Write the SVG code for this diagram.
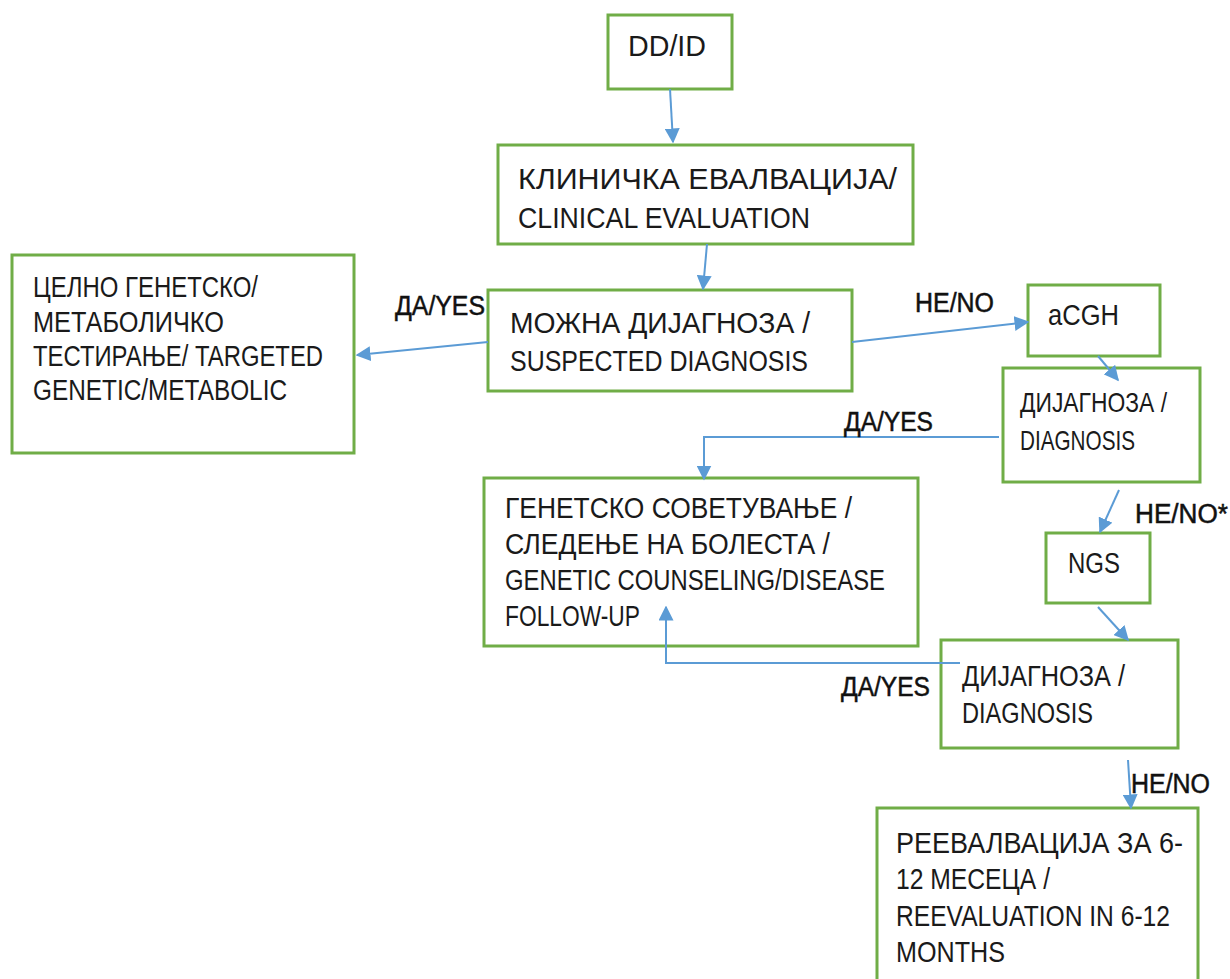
<svg xmlns="http://www.w3.org/2000/svg" width="1230" height="979" viewBox="0 0 1230 979">
<style>
.box{fill:#fff;stroke:#70AD47;stroke-width:3}
.t{font-family:"Liberation Sans",Arial,sans-serif;font-size:29px;fill:#1a1a1a}
.s{font-family:"Liberation Sans",Arial,sans-serif;font-size:28px;fill:#1a1a1a}
.lbl{font-family:"Liberation Sans",sans-serif;font-size:27px;fill:#111;stroke:#111;stroke-width:0.5}
.c{fill:none;stroke:#5B9BD5;stroke-width:2}
</style>
<defs>
<marker id="ah" viewBox="0 0 10 10" refX="9" refY="5" markerWidth="7.5" markerHeight="7.5" orient="auto" markerUnits="strokeWidth">
<path d="M0,0 L10,5 L0,10 z" fill="#5B9BD5"/>
</marker>
</defs>
<rect width="1230" height="979" fill="#fff"/>
<g id="n-ddid">
<rect class="box" x="608" y="15" width="124" height="74"/>
<text class="t" x="628" y="56" textLength="78" lengthAdjust="spacingAndGlyphs">DD/ID</text>
</g>
<g id="n-clinical">
<rect class="box" x="498" y="145" width="415" height="99"/>
<text class="t" x="518" y="189" textLength="379" lengthAdjust="spacingAndGlyphs">КЛИНИЧКА ЕВАЛВАЦИЈА/</text>
<text class="t" x="518" y="228" textLength="292" lengthAdjust="spacingAndGlyphs">CLINICAL EVALUATION</text>
</g>
<g id="n-targeted">
<rect class="box" x="12" y="255" width="342" height="198"/>
<text class="t" x="33" y="297" textLength="225" lengthAdjust="spacingAndGlyphs">ЦЕЛНО ГЕНЕТСКО/</text>
<text class="t" x="33" y="332" textLength="191" lengthAdjust="spacingAndGlyphs">МЕТАБОЛИЧКО</text>
<text class="t" x="33" y="366" textLength="290" lengthAdjust="spacingAndGlyphs">ТЕСТИРАЊЕ/ TARGETED</text>
<text class="t" x="33" y="400" textLength="254" lengthAdjust="spacingAndGlyphs">GENETIC/METABOLIC</text>
</g>
<g id="n-suspected">
<rect class="box" x="488" y="290" width="364" height="101"/>
<text class="t" x="510" y="333" textLength="300" lengthAdjust="spacingAndGlyphs">МОЖНА ДИЈАГНОЗА /</text>
<text class="t" x="510" y="371" textLength="298" lengthAdjust="spacingAndGlyphs">SUSPECTED DIAGNOSIS</text>
</g>
<g id="n-acgh">
<rect class="box" x="1028" y="285" width="132" height="71"/>
<text class="t" x="1048" y="325" textLength="71" lengthAdjust="spacingAndGlyphs">aCGH</text>
</g>
<g id="n-diag1">
<rect class="box" x="1003" y="368" width="197" height="114"/>
<text class="s" x="1020" y="412" textLength="147" lengthAdjust="spacingAndGlyphs">ДИЈАГНОЗА /</text>
<text class="s" x="1020" y="450" textLength="115" lengthAdjust="spacingAndGlyphs">DIAGNOSIS</text>
</g>
<g id="n-counsel">
<rect class="box" x="484" y="478" width="434" height="168"/>
<text class="t" x="505" y="518" textLength="347" lengthAdjust="spacingAndGlyphs">ГЕНЕТСКО СОВЕТУВАЊЕ /</text>
<text class="t" x="505" y="554" textLength="325" lengthAdjust="spacingAndGlyphs">СЛЕДЕЊЕ НА БОЛЕСТА /</text>
<text class="t" x="505" y="590" textLength="380" lengthAdjust="spacingAndGlyphs">GENETIC COUNSELING/DISEASE</text>
<text class="t" x="505" y="626" textLength="135" lengthAdjust="spacingAndGlyphs">FOLLOW-UP</text>
</g>
<g id="n-ngs">
<rect class="box" x="1046" y="533" width="104" height="70"/>
<text class="t" x="1068" y="573" textLength="52" lengthAdjust="spacingAndGlyphs">NGS</text>
</g>
<g id="n-diag2">
<rect class="box" x="941" y="640" width="237" height="108"/>
<text class="t" x="962" y="686" textLength="163" lengthAdjust="spacingAndGlyphs">ДИЈАГНОЗА /</text>
<text class="t" x="962" y="723" textLength="131" lengthAdjust="spacingAndGlyphs">DIAGNOSIS</text>
</g>
<g id="n-reeval">
<rect class="box" x="877" y="808" width="321" height="175"/>
<text class="t" x="896" y="853" textLength="287" lengthAdjust="spacingAndGlyphs">РЕЕВАЛВАЦИЈА ЗА 6-</text>
<text class="t" x="896" y="889" textLength="154" lengthAdjust="spacingAndGlyphs">12 МЕСЕЦА /</text>
<text class="t" x="896" y="926" textLength="274" lengthAdjust="spacingAndGlyphs">REEVALUATION IN 6-12</text>
<text class="t" x="896" y="962" textLength="109" lengthAdjust="spacingAndGlyphs">MONTHS</text>
</g>
<g id="connectors">
<path class="c" d="M670,89 L673,142" marker-end="url(#ah)"/>
<path class="c" d="M707,244 L703,289" marker-end="url(#ah)"/>
<path class="c" d="M488,342 L357,355" marker-end="url(#ah)"/>
<path class="c" d="M852,342 L1028,322" marker-end="url(#ah)"/>
<path class="c" d="M1098,356 L1118,380" marker-end="url(#ah)"/>
<path class="c" d="M999,437 L704,437 L704,479" marker-end="url(#ah)"/>
<path class="c" d="M1119,490 L1100,532" marker-end="url(#ah)"/>
<path class="c" d="M1098,607 L1128,640" marker-end="url(#ah)"/>
<path class="c" d="M960,663 L666,663 L666,607" marker-end="url(#ah)"/>
<path class="c" d="M1128,760 L1131,808" marker-end="url(#ah)"/>
</g>
<g id="labels">
<text class="lbl" x="395" y="315" textLength="90" lengthAdjust="spacingAndGlyphs">ДА/YES</text>
<text class="lbl" x="915" y="312" textLength="79" lengthAdjust="spacingAndGlyphs">HE/NO</text>
<text class="lbl" x="844" y="431" textLength="89" lengthAdjust="spacingAndGlyphs">ДА/YES</text>
<text class="lbl" x="1135" y="523" textLength="93" lengthAdjust="spacingAndGlyphs">HE/NO*</text>
<text class="lbl" x="841" y="696" textLength="89" lengthAdjust="spacingAndGlyphs">ДА/YES</text>
<text class="lbl" x="1131" y="793" textLength="79" lengthAdjust="spacingAndGlyphs">HE/NO</text>
</g>
</svg>
